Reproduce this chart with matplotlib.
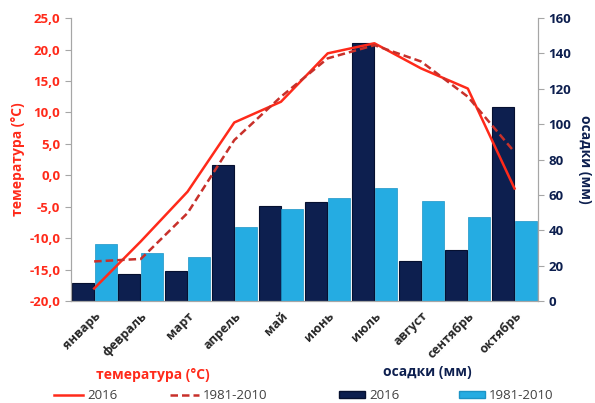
import matplotlib.pyplot as plt
import numpy as np
from matplotlib.lines import Line2D
from matplotlib.patches import Patch

plt.rcParams['font.family'] = ['Open Sans', 'DejaVu Sans']

months = ['январь', 'февраль', 'март', 'апрель', 'май', 'июнь',
          'июль', 'август', 'сентябрь', 'октябрь']
temp_2016 = [-18.0, -10.5, -2.6, 8.4, 11.7, 19.4, 21.0, 17.0, 13.8, -2.1]
temp_norm = [-13.7, -13.3, -6.0, 5.6, 12.5, 18.6, 20.7, 18.1, 12.5, 3.7]
prec_2016 = [10, 15.5, 17, 77, 54, 56, 146, 22.5, 29, 110]
prec_norm = [32, 27, 25, 42, 52, 58, 64, 56.5, 47.5, 45]

RED = '#ff2a1a'
DRED = '#c8302a'
NAVY = '#0d1f4f'
LBLUE = '#25ace2'

fig = plt.figure(figsize=(5.95, 4.03), dpi=100)
ax = fig.add_axes([0.119, 0.253, 0.785, 0.702])
ax2 = ax.twinx()

x = np.arange(len(months))
w = 0.47
ax2.bar(x - w / 2 - 0.01, prec_2016, w, color=NAVY, edgecolor='#061030', linewidth=0.8)
ax2.bar(x + w / 2 + 0.01, prec_norm, w, color=LBLUE, edgecolor='#1c94c6', linewidth=0.5)
ax2.set_ylim(0, 160)
ax2.set_yticks(range(0, 161, 20))

ax.plot(x, temp_2016, color=RED, lw=1.8, zorder=5)
ax.plot(x, temp_norm, color=DRED, lw=1.8, ls=(0, (3, 1.6)), zorder=5)
ax.set_ylim(-20, 25)
ax.set_yticks(np.arange(-20, 26, 5))
ax.set_yticklabels([f'{v:.1f}'.replace('.', ',') for v in np.arange(-20, 26, 5)])
ax.set_xlim(-0.5, len(months) - 0.5)
ax.set_xticks(x)
ax.set_xticklabels(months, rotation=45, ha='right', rotation_mode='anchor',
                   fontsize=9, fontweight='bold', color='#262626')
ax.tick_params(axis='x', length=0, pad=6)

# lines above bars
ax.set_zorder(ax2.get_zorder() + 1)
ax.patch.set_visible(False)

for a in (ax, ax2):
    a.spines['top'].set_visible(False)
    for s in ('left', 'right', 'bottom'):
        a.spines[s].set_color('#a6a6a6')
ax.tick_params(axis='y', colors='#a6a6a6', labelcolor=RED, labelsize=9.5, length=4)
for t in ax.get_yticklabels():
    t.set_fontweight('bold')
ax2.tick_params(axis='y', colors='#a6a6a6', labelcolor=NAVY, labelsize=9.5, length=4)
for t in ax2.get_yticklabels():
    t.set_fontweight('bold')

ax.set_ylabel('темература (°C)', color=RED, fontsize=10, fontweight='bold')
ax.yaxis.set_label_coords(-0.098, 0.5)
ax2.set_ylabel('осадки (мм)', color=NAVY, fontsize=10, fontweight='bold',
               rotation=270, labelpad=15)

fig.text(0.257, 0.07, 'темература (°C)', color=RED, fontsize=10,
         fontweight='bold', ha='center', va='center')
fig.text(0.718, 0.077, 'осадки (мм)', color=NAVY, fontsize=10,
         fontweight='bold', ha='center', va='center')

h1 = [Line2D([], [], color=RED, lw=1.8),
      Line2D([], [], color=DRED, lw=1.8, ls=(0, (3, 1.6)))]
fig.legend(h1, ['2016', '1981-2010'], loc='center', bbox_to_anchor=(0.27, 0.018),
           ncol=2, frameon=False, fontsize=9.5, handlelength=2.2, columnspacing=4,
           handletextpad=0.3, labelcolor='#404040')
h2 = [Patch(facecolor=NAVY, edgecolor='#061030'),
      Patch(facecolor=LBLUE, edgecolor='#1c94c6')]
fig.legend(h2, ['2016', '1981-2010'], loc='center', bbox_to_anchor=(0.75, 0.018),
           ncol=2, frameon=False, fontsize=9.5, handlelength=2.0, handleheight=0.5,
           columnspacing=4.5, handletextpad=0.3, labelcolor='#404040')

fig.savefig('out.png', dpi=100)
